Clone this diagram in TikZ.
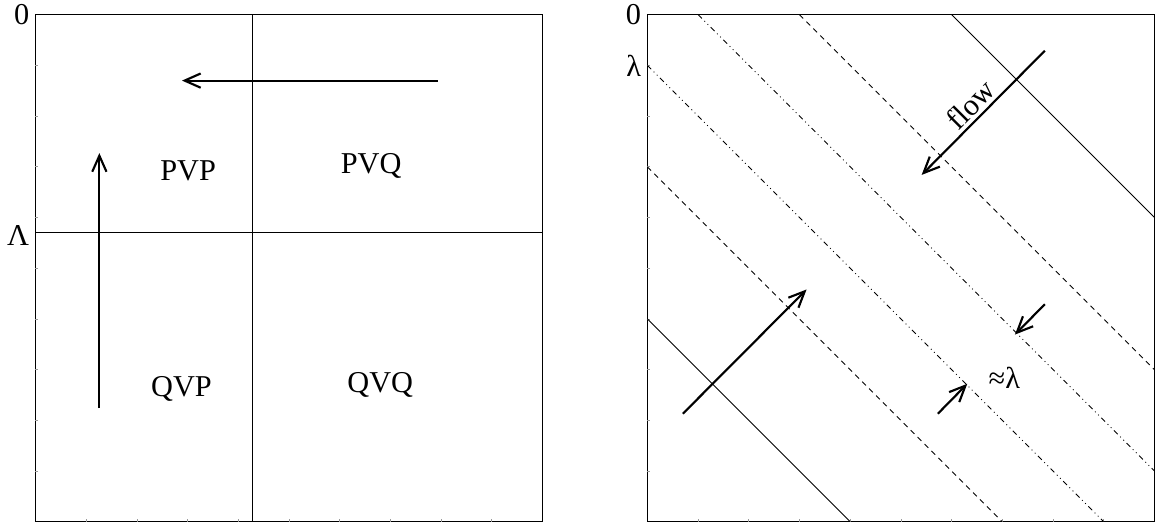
\documentclass[tikz,border=0pt]{standalone}
\usepackage{fontspec}
\setmainfont{Liberation Serif}
\usetikzlibrary{arrows.meta}

\begin{document}
\begin{tikzpicture}[
    every node/.style={font=\fontsize{17}{20}\selectfont},
    frame/.style={line width=0.8pt},
    thin line/.style={line width=0.5pt},
    tick/.style={line width=0.4pt, black!40},
    bigarrow/.style={line width=1.2pt, -{Straight Barb[length=9pt,width=8pt]}},
    dashline/.style={line width=0.5pt, dash pattern=on 3pt off 2.5pt},
    dotline/.style={line width=0.5pt, dash pattern=on 3pt off 2pt on 0.5pt off 2pt on 0.5pt off 2pt}
]
    \useasboundingbox (-0.70,-0.01) rectangle (22.28,10.29);

    % Left panel: the four blocks
    \begin{scope}[shift={(0,0)}]
        \draw[frame] (0,0) rectangle (10,10);
        \foreach \i in {1,...,9} {
            \draw[tick] (0,\i) -- (0.05,\i);
            \draw[tick] (\i,0) -- (\i,0.05);
        }
        \draw[thin line] (4.28,0) -- (4.28,10);
        \draw[thin line] (0,5.70) -- (10,5.70);
        \node[left] (zeroL) at (0,10) {0};
        \node[left] (Lam) at (0,5.64) {Λ};
        % Block labels
        \node (PVP) at (3.01,6.93) {PVP};
        \node (PVQ) at (6.62,7.01) {PVQ};
        \node (QVP) at (2.88,2.61) {QVP};
        \node (QVQ) at (6.80,2.69) {QVQ};
        % Arrows
        \coordinate (H1) at (7.93,8.70);
        \coordinate (H2) at (2.89,8.70);
        \coordinate (V1) at (1.26,2.24);
        \coordinate (V2) at (1.26,7.27);
        \draw[bigarrow] (H1) -- (H2);
        \draw[bigarrow] (V1) -- (V2);
    \end{scope}

    % Right panel: diagonal bands
    \begin{scope}[shift={(12.07,0)}]
        \draw[frame] (0,0) rectangle (10,10);
        \foreach \i in {1,...,9} {
            \draw[tick] (0,\i) -- (0.05,\i);
            \draw[tick] (\i,0) -- (\i,0.05);
        }
        \node[left] (zeroR) at (0,10) {0};
        \node[left] (lam) at (0,9) {λ};
        % Lines x+y = const
        \draw[thin line] (6,10) -- (10,6);
        \draw[thin line] (0,4) -- (4,0);
        \draw[dashline] (3,10) -- (10,3);
        \draw[dashline] (0,7) -- (7,0);
        \draw[dotline] (1,10) -- (10,1);
        \draw[dotline] (0,9) -- (9,0);
        % Flow arrows
        \coordinate (F1) at (7.84,9.29);
        \coordinate (F2) at (5.41,6.84);
        \coordinate (G1) at (0.70,2.13);
        \coordinate (G2) at (3.14,4.58);
        \draw[bigarrow] (F1) -- (F2);
        \draw[bigarrow] (G1) -- (G2);
        \node[rotate=45] (flow) at (6.37,8.23) {flow};
        % Width marker
        \coordinate (W1) at (5.73,2.13);
        \coordinate (W2) at (6.31,2.72);
        \coordinate (W3) at (7.84,4.29);
        \coordinate (W4) at (7.25,3.69);
        \draw[bigarrow] (W1) -- (W2);
        \draw[bigarrow] (W3) -- (W4);
        \node (approx) at (7.04,2.83) {≈λ};
    \end{scope}
\end{tikzpicture}
\end{document}
